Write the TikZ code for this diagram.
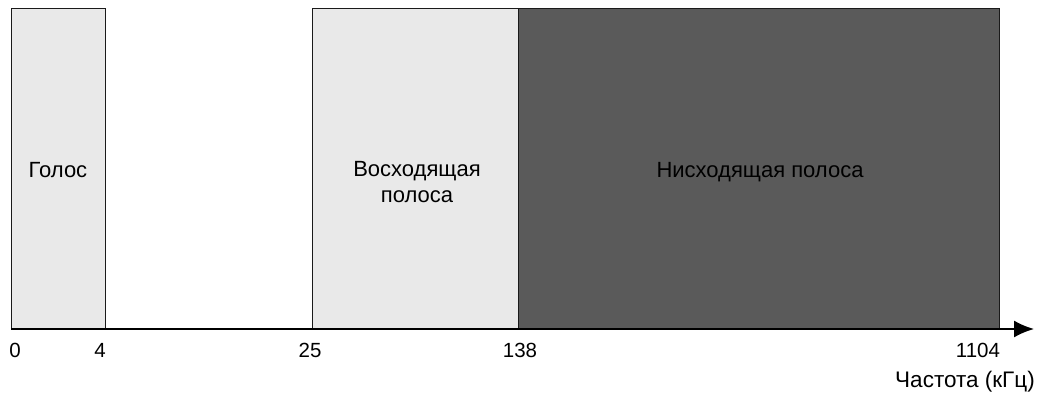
\documentclass[tikz,border=0pt]{standalone}
\usepackage{fontspec}
\setmainfont{Liberation Sans}
\usetikzlibrary{arrows.meta}

\begin{document}
\begin{tikzpicture}[x=1pt, y=-1pt,
    band/.style={draw=borderColour, line width=1.4pt, anchor=north west, inner sep=0pt, minimum height=321pt},
    bandText/.style={font=\fontsize{22}{26}\selectfont, align=center, inner sep=0pt, anchor=base},
    tickText/.style={font=\fontsize{20.5}{24}\selectfont, anchor=base, inner sep=0pt}]

    % Define colours
    \definecolor{borderColour}{HTML}{1A1A1A}
    \definecolor{lightFill}{HTML}{E9E9E9}
    \definecolor{darkFill}{HTML}{5A5A5A}

    \useasboundingbox (0,0) rectangle (1047,403);

    % Draw bands
    \node[band, fill=lightFill, minimum width=94pt] (voice) at (11,8) {};
    \node[band, fill=lightFill, minimum width=206pt] (upstream) at (312,8) {};
    \node[band, fill=darkFill, minimum width=481pt] (downstream) at (518,8) {};

    % Label bands
    \node[bandText] (voiceLabel) at (58,178) {Голос};
    \node[bandText] (upLabel) at (417,203) {Восходящая\\полоса};
    \node[bandText] (downLabel) at (760,178) {Нисходящая полоса};

    % Draw axis
    \coordinate (origin) at (11,329);
    \coordinate (axisEnd) at (1034,329);
    \draw[line width=1.8pt, -{Latex[length=20pt,width=17pt]}] (origin) -- (axisEnd);

    % Label ticks
    \foreach \x/\f in {15/0, 100/4, 310/25, 520/138, 978/1104}
        \node[tickText] (tick\f) at (\x,357) {\f};
    \node[tickText, font=\fontsize{22.5}{26}\selectfont] (freqLabel) at (965,387) {Частота (кГц)};

\end{tikzpicture}
\end{document}
